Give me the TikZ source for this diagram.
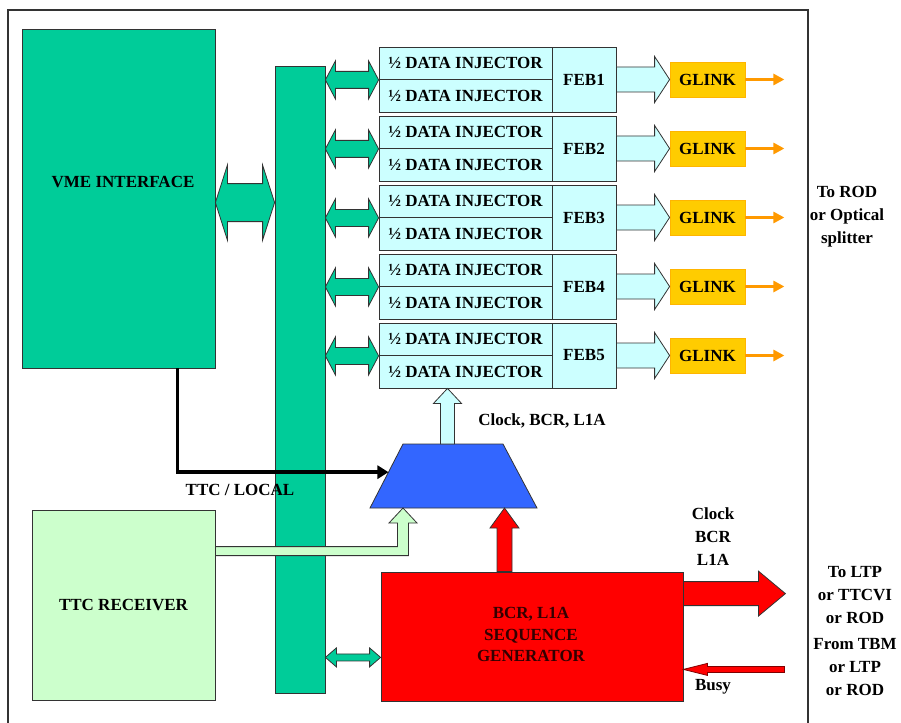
\documentclass[tikz,border=0pt]{standalone}
\usepackage{fontspec}
\setmainfont{Liberation Serif}
\usetikzlibrary{calc,arrows.meta}
\definecolor{vmegreen}{HTML}{00CC99}
\definecolor{injcyan}{HTML}{CCFFFF}
\definecolor{glinkgold}{HTML}{FFCC00}
\definecolor{arrorange}{HTML}{FF9900}
\definecolor{ttcgreen}{HTML}{CCFFCC}
\definecolor{muxblue}{HTML}{3366FF}
\definecolor{seqred}{HTML}{FF0000}
\definecolor{edgegray}{HTML}{333333}
\definecolor{seqtext}{HTML}{330000}
% double horizontal block arrow: A (left tip), B (right tip), shaft half, head half, head length, style
\newcommand{\dblarr}[6]{%
  \path[#6] (#1) -- ($(#1)+(#5,-#4)$) -- ($(#1)+(#5,-#3)$) -- ($(#2)+(-#5,-#3)$) -- ($(#2)+(-#5,-#4)$) -- (#2)
   -- ($(#2)+(-#5,#4)$) -- ($(#2)+(-#5,#3)$) -- ($(#1)+(#5,#3)$) -- ($(#1)+(#5,#4)$) -- cycle;}
% right block arrow: A (tail), B (tip)
\newcommand{\rarr}[6]{%
  \path[#6] ($(#1)+(0,-#3)$) -- ($(#2)+(-#5,-#3)$) -- ($(#2)+(-#5,-#4)$) -- (#2) -- ($(#2)+(-#5,#4)$)
   -- ($(#2)+(-#5,#3)$) -- ($(#1)+(0,#3)$) -- cycle;}
% left block arrow: A (tail, right), B (tip, left)
\newcommand{\larr}[6]{%
  \path[#6] ($(#1)+(0,-#3)$) -- ($(#2)+(#5,-#3)$) -- ($(#2)+(#5,-#4)$) -- (#2) -- ($(#2)+(#5,#4)$)
   -- ($(#2)+(#5,#3)$) -- ($(#1)+(0,#3)$) -- cycle;}
% up block arrow: A (tail, below), B (tip, above)
\newcommand{\uarr}[6]{%
  \path[#6] ($(#1)+(-#3,0)$) -- ($(#2)+(-#3,#5)$) -- ($(#2)+(-#4,#5)$) -- (#2) -- ($(#2)+(#4,#5)$)
   -- ($(#2)+(#3,#5)$) -- ($(#1)+(#3,0)$) -- cycle;}
\tikzset{
  box/.style={draw=edgegray, line width=0.8pt, rectangle, inner sep=0pt},
  txt/.style={font=\fontsize{17}{23}\selectfont\bfseries, align=center, inner sep=0pt},
  arr/.style={draw=edgegray, line width=0.8pt},
}
\begin{document}
\begin{tikzpicture}[x=1pt,y=-1pt]
\useasboundingbox (0,0) rectangle (901,722);
% frame
\draw[edgegray, line width=1.2pt] (8,740) -- (8,10) -- (808,10) -- (808,740);
% VME interface and bus
\node[box, fill=vmegreen, minimum width=193pt, minimum height=339pt] (vme) at (118.5,198.5) {};
\node[txt] (vmet) at (123,182) {VME INTERFACE};
\node[box, fill=vmegreen, minimum width=50pt, minimum height=627pt] (bus) at (300,379.5) {};
\coordinate (va) at ($(vme.north east)+(0,174)$);
\coordinate (vb) at (bus.west |- va);
\dblarr{va}{vb}{19}{37.5}{12}{arr, fill=vmegreen}
% data injector blocks
\foreach \k in {1,...,5} {
  \pgfmathsetmacro\ytop{47+69*(\k-1)}
  \node[box, fill=injcyan, minimum width=173pt, minimum height=32.5pt, txt] (ha\k) at (465.5,\ytop+16.25) {½ DATA INJECTOR};
  \node[box, fill=injcyan, minimum width=173pt, minimum height=32.5pt, txt] (hb\k) at (465.5,\ytop+48.75) {½ DATA INJECTOR};
  \node[box, fill=injcyan, minimum width=64pt, minimum height=65pt, txt] (feb\k) at (584,\ytop+32.5) {FEB\k};
  \node[box, draw=glinkgold!70!orange, fill=glinkgold, minimum width=75pt, minimum height=35pt, txt] (glk\k) at (707.5,\ytop+32.5) {GLINK};
  \coordinate (da\k) at (bus.east |- ha\k.south west);
  \dblarr{da\k}{ha\k.south west}{8.5}{19}{10}{arr, fill=vmegreen}
  \rarr{feb\k.east}{glk\k.west}{12.5}{23}{15}{arr, fill=injcyan}
  \coordinate (oe\k) at ($(glk\k.east)+(39,0)$);
  \draw[arrorange, line width=3pt, -{Triangle[length=11pt,width=11pt]}] (glk\k.east) -- (oe\k);
}
\node[txt] (torod) at (847,217) {To ROD\\or Optical\\splitter};
% multiplexer (trapezoid)
\path[arr, fill=muxblue] (370,508) coordinate (mbl) -- (403,444) coordinate (mtl) -- (503,444) coordinate (mtr)
  -- (537,508) coordinate (mbr) -- cycle;
\coordinate (muxn) at ($(mtl)!0.5!(mtr)$);
\coordinate (muxs) at ($(mbl)!0.5!(mbr)$);
\coordinate (ca) at ($(muxn)+(-5.5,0)$);
\coordinate (cb) at (ca |- hb5.south);
\uarr{ca}{cb}{7}{14}{15}{arr, fill=injcyan}
\node[txt] (clk) at (542,421) {Clock, BCR, L1A};
% TTC / LOCAL select line
\coordinate (b0) at ($(vme.south west)+(156,0)$);
\coordinate (b1) at ($(mbl)!0.56!(mtl)$);
\draw[black, line width=3.5pt, -{Triangle[length=11pt,width=13pt]}] (b0) |- (b1);
\node[txt] (ttcl) at (240,490) {TTC / LOCAL};
% TTC receiver
\node[box, fill=ttcgreen, minimum width=183pt, minimum height=190pt, txt] (ttc) at (123.5,605) {TTC RECEIVER};
\coordinate (g0) at ($(ttc.north east)+(0,41.5)$);
\coordinate (gt) at ($(muxs)+(-50.5,0)$);
\coordinate (gc) at (gt |- g0);
\path[arr, fill=ttcgreen] ($(g0)+(0,-4.5)$) -- ($(gc)+(-5.5,-4.5)$) -- ($(gt)+(-5.5,15)$) -- ($(gt)+(-14,15)$) -- (gt)
  -- ($(gt)+(14,15)$) -- ($(gt)+(5.5,15)$) -- ($(gc)+(5.5,4.5)$) -- ($(g0)+(0,4.5)$) -- cycle;
% sequence generator
\node[box, fill=seqred, minimum width=302pt, minimum height=129pt] (seq) at (532,636.5) {};
\node[txt, font=\fontsize{17}{21.5}\selectfont\bfseries, text=seqtext] (seqt) at (531,634.5) {BCR, L1A\\SEQUENCE\\GENERATOR};
\coordinate (rt) at ($(muxs)+(51,0)$);
\coordinate (rb) at (rt |- seq.north);
\uarr{rb}{rt}{7.5}{14.5}{20}{arr, fill=seqred}
\coordinate (sq) at ($(seq.south west)+(0,-44)$);
\coordinate (sa) at (bus.east |- sq);
\dblarr{sa}{sq}{3.5}{9.5}{11}{arr, fill=vmegreen}
% outputs
\coordinate (ra) at ($(seq.north east)+(0,22)$);
\coordinate (rtip) at ($(ra)+(102,0)$);
\rarr{ra}{rtip}{12}{22.5}{27}{arr, fill=seqred}
\coordinate (bsy) at ($(seq.south east)+(0,-32)$);
\coordinate (bsa) at ($(bsy)+(101,0)$);
\larr{bsa}{bsy}{3}{6}{24}{draw=red!50!black, line width=0.8pt, fill=seqred}
\node[txt] (clkout) at (713,537) {Clock\\BCR\\L1A};
\node[txt] (busy) at (713,687) {Busy};
\node[txt] (toltp) at (855,595) {To LTP\\or TTCVI\\or ROD};
\node[txt] (fromtbm) at (855,667) {From TBM\\or LTP\\or ROD};
\end{tikzpicture}
\end{document}
